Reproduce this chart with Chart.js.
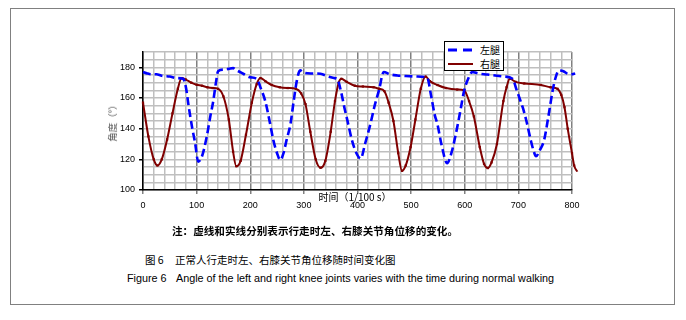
<!DOCTYPE html>
<html><head><meta charset="utf-8">
<script src="https://cdn.jsdelivr.net/npm/chart.js@4"></script>
<style>
html,body{margin:0;padding:0;background:#fff;}
#wrap{position:relative;width:686px;height:320px;overflow:hidden;}
#frame{position:absolute;left:10px;top:8px;width:663px;height:295px;border:1px solid #808080;}
#c{position:absolute;left:0;top:0;}
.t{position:absolute;white-space:nowrap;color:#000;}
#ytitle{left:112px;top:121px;transform:translate(-50%,-50%) rotate(-90deg);font:9.5px "Noto Sans CJK SC";color:#555;}
#xtitle{left:355px;top:196px;transform:translate(-50%,-50%);font:10px "Noto Sans CJK SC";}
#legend{position:absolute;left:444px;top:41px;width:58px;height:28px;border:1px solid #000;background:#fff;}
#legend .lab{position:absolute;left:35px;font:10px "Noto Sans CJK SC";line-height:12px;}
#note{left:172px;top:223px;font:bold 10.6px "Noto Sans CJK SC";}
#cap1{left:145px;top:252px;font:10.5px "Noto Sans CJK SC";}
#cap1 span{position:absolute;left:30px;top:0;}
#cap2{left:127px;top:272px;font:10.8px "Liberation Sans",Arial;}
#cap2 span{position:absolute;left:49px;top:0;}
</style></head>
<body><div id="wrap">
<div id="frame"></div>
<canvas id="c" width="686" height="215"></canvas>
<div class="t" id="ytitle">角度（°）</div>
<div class="t" id="xtitle">时间（1/100 s）</div>
<div id="legend">
<svg width="58" height="28" style="position:absolute;left:0;top:0">
<line x1="3" y1="8" x2="28" y2="8" stroke="#0000ff" stroke-width="3" stroke-dasharray="9,6"/>
<line x1="3" y1="22" x2="28" y2="22" stroke="#800000" stroke-width="2"/>
</svg>
<div class="lab" style="top:2px">左腿</div>
<div class="lab" style="top:16px">右腿</div>
</div>
<div class="t" id="note">注：虚线和实线分别表示行走时左、右膝关节角位移的变化。</div>
<div class="t" id="cap1">图 6<span>正常人行走时左、右膝关节角位移随时间变化图</span></div>
<div class="t" id="cap2">Figure 6<span>Angle of the left and right knee joints varies with the time during normal walking</span></div>
</div>
<script>
const seriesNames = ["左腿", "右腿"];
const leftTime = [0,8,15,25,35,50,62,75,80,85,92,97,103,110,119,125,131,136,140,150,160,168,175,187,200,212,220,228,236,243,250,256,262,268,275,281,287,293,300,315,331,345,356,362,370,376,381,390,398,406,414,424,432,440,449,460,474,490,511,530,537,544,549,557,567,575,586,593,599,607,614,625,642,660,673,689,697,703,708,715,723,728,733,740,748,756,764,770,776,784,792,800,806];
const leftAngle = [177,176,175.5,175.5,174.5,174,173,172.5,167,155,140,131,118.5,122,135,147,158,170,177.5,178.5,179,179.5,178,175.8,173.5,172.5,166,158,145,132.6,124,119.5,124,133,143,158,171.5,178,176.5,176,175.8,174,173,172.5,163,153,145.6,132,124,120.5,130,143,155,165,177,175.5,174.7,174.3,174,173.2,162,149,143,129,117.5,124,141,154,165,173,177,176,175.3,174.5,174,172.5,165,159,154,145,132.6,126,122,126,132.6,148,165,174,178,177.5,175.8,175.5,176];
const rightTime = [0,10,20,27,35,45,55,65,72,80,90,100,110,120,130,140,150,160,168,174,182,192,203,212,219,228,240,255,270,285,295,303,312,322,331,340,350,358,365,370,380,395,410,430,440,450,458,467,476,483,490,499,508,518,527,535,549,565,586,599,608,617,628,636,643,650,660,672,678,684,695,711,742,760,773,780,786,792,800,804,810];
const rightAngle = [157,135,120,116,120,133,150,166,173,172,170,168.6,168,167,166.5,166,161,146,125,115.5,119,136,157,169,173,171,168.5,167,166.5,166,163,156,138,120,114.5,119,138,158,170,172.5,170.5,168,167.5,167,166,164.5,157,145,124,112.5,116,128,146,166,174,171,168.5,166.5,165.5,165,158,148,128,117,114.3,118,130,158,167,172.5,170.5,169.5,168.5,167,166,162,154,140,124,116,112];
const xTicks = [0,100,200,300,400,500,600,700,800];
const yTicks = [100,120,140,160,180];
const xRange = [0, 800], xGridStep = 20;
const yRange = [100, 190], yGridStep = 5;

const pts = (xs, ys) => xs.map((x, i) => ({x: x, y: ys[i]}));
const tickFont = {family: "'Liberation Sans', Arial", size: 9};
const gridTicks = (lo, hi, step) => { const a = []; for (let v = lo; v <= hi + 1e-9; v += step) a.push({value: v}); return a; };

new Chart(document.getElementById('c'), {
  type: 'line',
  data: {
    datasets: [
      {label: seriesNames[0], data: pts(leftTime, leftAngle), borderColor: '#0000ff', borderWidth: 2.6,
       borderDash: [8, 4], pointRadius: 0, tension: 0.3, cubicInterpolationMode: 'monotone', clip: false, fill: false},
      {label: seriesNames[1], data: pts(rightTime, rightAngle), borderColor: '#800000', backgroundColor: '#800000', borderWidth: 2,
       pointStyle: 'rect', pointRadius: 1.6, pointBorderWidth: 0, tension: 0.3, cubicInterpolationMode: 'monotone', clip: false, fill: false}
    ]
  },
  options: {
    responsive: false, animation: false, devicePixelRatio: 1,
    layout: {padding: {left: 0, right: 114, top: 52, bottom: 0}},
    plugins: {legend: {display: false}, tooltip: {enabled: false}},
    scales: {
      x: {
        type: 'linear', bounds: 'data',
        afterDataLimits: s => { s.min = xRange[0]; s.max = xRange[1]; },
        afterBuildTicks: s => { s.ticks = gridTicks(xRange[0], xRange[1], xGridStep); },
        afterFit: s => { s.height = 25; },
        ticks: {autoSkip: false, maxRotation: 0, padding: 6, color: '#000', font: tickFont,
                callback: v => xTicks.includes(v) ? String(v) : ''},
        grid: {lineWidth: 1.5, tickLength: 4,
               color: c => (c.tick && c.tick.value % 100 === 0) ? '#808080' : '#bfbfbf',
               tickColor: c => (c.tick && c.tick.value % 100 === 0) ? '#808080' : 'rgba(0,0,0,0)'},
        border: {color: '#000', width: 1.5}
      },
      y: {
        min: yRange[0], max: yRange[1],
        afterBuildTicks: s => { s.ticks = gridTicks(yRange[0], yRange[1], yGridStep); },
        afterFit: s => { s.width = 143; },
        ticks: {autoSkip: false, padding: 4, color: '#000', font: tickFont,
                callback: v => yTicks.includes(v) ? String(v) : ''},
        grid: {lineWidth: 1.5, tickLength: 4, color: '#bfbfbf',
               tickColor: c => (c.tick && yTicks.includes(c.tick.value)) ? '#000' : 'rgba(0,0,0,0)'},
        border: {color: '#000', width: 1.5}
      }
    }
  }
});
</script>
</body></html>
